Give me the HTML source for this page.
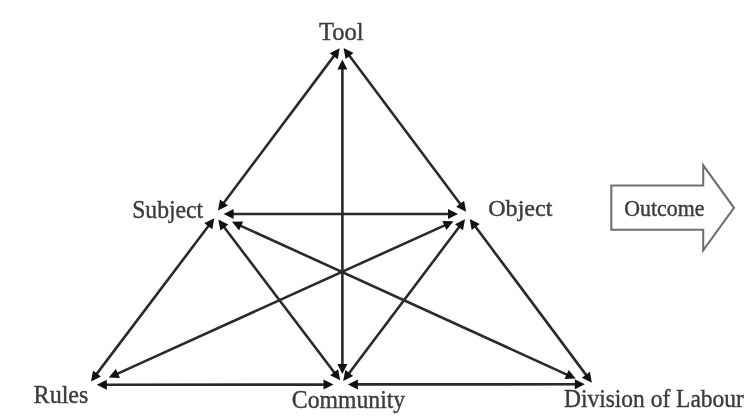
<!DOCTYPE html>
<html><head><meta charset="utf-8"><style>
html,body{margin:0;padding:0;background:#fff;}
body{width:756px;height:416px;overflow:hidden;}
svg{display:block;filter:blur(0.7px);}
text{font-family:"Liberation Serif",serif;fill:#3c3c3c;stroke:#3c3c3c;stroke-width:0.4px;}
</style></head><body>
<svg width="756" height="416" viewBox="0 0 756 416">
<g stroke="#2a2a2a" stroke-width="2.6" fill="none">
<line x1="334.60" y1="55.10" x2="223.10" y2="203.80"/>
<line x1="348.69" y1="54.81" x2="461.01" y2="204.99"/>
<line x1="342.40" y1="67.90" x2="342.40" y2="365.50"/>
<line x1="232.10" y1="214.00" x2="449.50" y2="214.00"/>
<line x1="209.17" y1="225.08" x2="96.13" y2="374.62"/>
<line x1="223.43" y1="226.27" x2="335.07" y2="373.53"/>
<line x1="239.73" y1="225.33" x2="567.97" y2="375.07"/>
<line x1="445.76" y1="224.81" x2="116.54" y2="374.09"/>
<line x1="459.89" y1="225.99" x2="348.31" y2="374.21"/>
<line x1="474.78" y1="225.81" x2="586.82" y2="375.89"/>
<line x1="105.30" y1="384.79" x2="325.00" y2="384.61"/>
<line x1="356.40" y1="384.40" x2="576.30" y2="384.30"/>
</g>
<path d="M339.70 48.30L337.70 59.30L329.70 53.30Z" fill="#111"/>
<path d="M218.00 210.60L220.00 199.60L228.00 205.60Z" fill="#111"/>
<path d="M343.60 48.00L353.59 53.01L345.58 59.00Z" fill="#111"/>
<path d="M466.10 211.80L456.11 206.79L464.12 200.80Z" fill="#111"/>
<path d="M342.40 59.40L347.40 69.40L337.40 69.40Z" fill="#111"/>
<path d="M342.40 374.00L337.40 364.00L347.40 364.00Z" fill="#111"/>
<path d="M223.60 214.00L233.60 209.00L233.60 219.00Z" fill="#111"/>
<path d="M458.00 214.00L448.00 219.00L448.00 209.00Z" fill="#111"/>
<path d="M214.30 218.30L212.26 229.29L204.28 223.26Z" fill="#111"/>
<path d="M91.00 381.40L93.04 370.41L101.02 376.44Z" fill="#111"/>
<path d="M218.30 219.50L228.33 224.45L220.36 230.49Z" fill="#111"/>
<path d="M340.20 380.30L330.17 375.35L338.14 369.31Z" fill="#111"/>
<path d="M232.00 221.80L243.17 221.40L239.02 230.50Z" fill="#111"/>
<path d="M575.70 378.60L564.53 379.00L568.68 369.90Z" fill="#111"/>
<path d="M453.50 221.30L446.46 229.98L442.33 220.88Z" fill="#111"/>
<path d="M108.80 377.60L115.84 368.92L119.97 378.02Z" fill="#111"/>
<path d="M465.00 219.20L462.98 230.20L454.99 224.18Z" fill="#111"/>
<path d="M343.20 381.00L345.22 370.00L353.21 376.02Z" fill="#111"/>
<path d="M469.70 219.00L479.69 224.02L471.68 230.00Z" fill="#111"/>
<path d="M591.90 382.70L581.91 377.68L589.92 371.70Z" fill="#111"/>
<path d="M96.80 384.80L106.80 379.79L106.80 389.79Z" fill="#111"/>
<path d="M333.50 384.60L323.50 389.61L323.50 379.61Z" fill="#111"/>
<path d="M347.90 384.40L357.90 379.40L357.90 389.40Z" fill="#111"/>
<path d="M584.80 384.30L574.80 389.30L574.80 379.30Z" fill="#111"/>
<path d="M611.3 185.5H703.2V165.3L734 207.8L703.2 250.3V229.7H611.3Z" fill="#fff" stroke="#707070" stroke-width="2.1" stroke-linejoin="miter"/>
<text x="319.0" y="39.75" font-size="24.5" textLength="44.56" lengthAdjust="spacingAndGlyphs">Tool</text>
<text x="132.2" y="218.2" font-size="24.5" textLength="70.9" lengthAdjust="spacingAndGlyphs">Subject</text>
<text x="488.2" y="216.35" font-size="23.5" textLength="64.3" lengthAdjust="spacingAndGlyphs">Object</text>
<text x="33.6" y="403.45" font-size="24.5" textLength="54.81" lengthAdjust="spacingAndGlyphs">Rules</text>
<text x="291.85" y="407.85" font-size="24.5" textLength="113.33" lengthAdjust="spacingAndGlyphs">Community</text>
<text x="564.0" y="407.45" font-size="24.5" textLength="179.81" lengthAdjust="spacingAndGlyphs">Division of Labour</text>
<text x="624.3" y="215.85" font-size="22.5" textLength="80.08" lengthAdjust="spacingAndGlyphs">Outcome</text>
</svg>
</body></html>
